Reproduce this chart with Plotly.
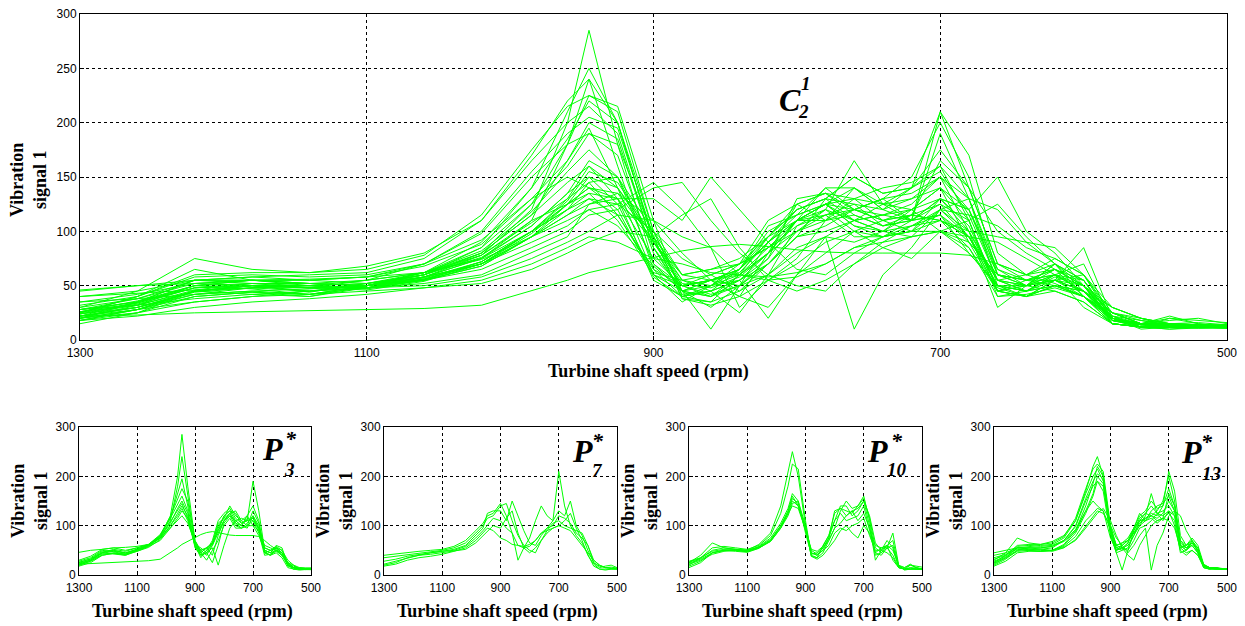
import plotly.graph_objects as go

# ---------------- data ----------------
speed_rpm = [1300, 1260, 1220, 1180, 1140, 1100, 1060, 1020, 985, 960, 945, 925, 900,
             880, 860, 840, 820, 800, 780, 760, 740, 720, 700, 680, 660, 640, 620,
             600, 580, 560, 540, 520, 500]

x_ticks = [1300, 1100, 900, 700, 500]
y_ticks_main = [0, 50, 100, 150, 200, 250, 300]
y_ticks_small = [0, 100, 200, 300]

p3_curves = [
    [22, 30, 45, 42, 40, 50, 60, 78, 120, 200, 285, 180, 70, 45, 55, 65, 90, 120, 130, 125, 105, 110, 190, 130, 50, 45, 50, 40, 20, 15, 14, 12, 12],
    [20, 28, 42, 45, 42, 48, 58, 75, 110, 180, 240, 160, 65, 40, 50, 60, 85, 110, 125, 130, 110, 120, 140, 110, 45, 50, 55, 45, 22, 18, 13, 12, 11],
    [25, 33, 48, 50, 44, 52, 62, 80, 115, 165, 195, 140, 60, 45, 55, 65, 100, 115, 140, 120, 110, 100, 130, 105, 48, 40, 55, 50, 25, 15, 12, 12, 13],
    [28, 35, 50, 47, 42, 50, 62, 82, 118, 155, 175, 150, 70, 50, 40, 60, 95, 120, 130, 110, 100, 95, 120, 95, 50, 45, 60, 55, 20, 12, 15, 14, 14],
    [22, 30, 44, 48, 45, 52, 60, 76, 105, 135, 150, 125, 60, 35, 50, 70, 110, 125, 135, 115, 105, 110, 115, 90, 45, 40, 50, 45, 18, 15, 12, 11, 12],
    [20, 28, 40, 44, 40, 48, 56, 72, 100, 125, 140, 120, 58, 40, 45, 65, 105, 115, 125, 105, 100, 115, 110, 85, 40, 42, 48, 40, 22, 12, 10, 11, 11],
    [24, 30, 45, 50, 45, 50, 58, 70, 95, 115, 130, 115, 65, 50, 55, 40, 80, 110, 120, 100, 95, 105, 120, 100, 55, 50, 55, 45, 25, 15, 12, 12, 12],
    [26, 32, 46, 52, 48, 55, 62, 74, 95, 110, 120, 105, 68, 45, 30, 50, 70, 100, 115, 95, 95, 100, 100, 80, 50, 45, 58, 50, 30, 20, 12, 11, 11],
    [30, 38, 52, 55, 50, 55, 62, 78, 108, 130, 145, 115, 62, 55, 45, 25, 60, 105, 120, 110, 100, 120, 100, 90, 60, 55, 50, 45, 25, 15, 13, 12, 12],
    [22, 23, 25, 26, 27, 28, 29, 32, 45, 55, 62, 68, 76, 82, 86, 88, 86, 83, 81, 80, 80, 80, 80, 78, 70, 60, 52, 40, 25, 20, 15, 14, 14],
    [18, 25, 40, 44, 42, 50, 60, 80, 115, 145, 160, 130, 55, 40, 45, 55, 20, 60, 95, 110, 115, 110, 115, 95, 45, 40, 45, 35, 15, 12, 12, 12, 11],
    [46, 50, 52, 55, 56, 58, 62, 75, 100, 120, 135, 110, 60, 50, 55, 62, 90, 110, 125, 105, 95, 100, 110, 95, 55, 50, 55, 45, 20, 15, 12, 12, 12],
]

p7_curves = [
    [40, 43, 46, 48, 50, 52, 58, 70, 90, 105, 120, 125, 145, 120, 85, 60, 55, 58, 70, 85, 90, 95, 100, 95, 90, 75, 60, 45, 30, 20, 15, 14, 13],
    [20, 25, 35, 40, 45, 48, 52, 60, 80, 95, 125, 130, 130, 110, 150, 120, 90, 65, 60, 80, 95, 110, 210, 140, 100, 80, 65, 40, 18, 12, 12, 12, 12],
    [28, 32, 38, 42, 45, 48, 50, 58, 75, 90, 100, 115, 110, 95, 85, 30, 55, 75, 110, 140, 120, 110, 130, 120, 150, 100, 80, 50, 25, 15, 18, 20, 15],
    [18, 22, 30, 35, 38, 42, 48, 55, 70, 85, 95, 90, 75, 70, 62, 60, 58, 62, 70, 85, 95, 100, 120, 115, 105, 85, 75, 60, 30, 20, 15, 13, 12],
    [22, 28, 35, 40, 42, 45, 48, 52, 65, 80, 90, 100, 95, 115, 130, 85, 55, 45, 55, 70, 85, 95, 100, 110, 125, 95, 70, 40, 22, 12, 10, 12, 12],
    [35, 38, 42, 45, 47, 50, 55, 65, 85, 100, 115, 120, 140, 145, 110, 80, 60, 50, 45, 70, 90, 105, 110, 100, 95, 90, 85, 60, 25, 18, 15, 16, 14],
]

p10_curves = [
    [25, 40, 65, 55, 52, 50, 62, 85, 140, 210, 250, 200, 100, 45, 40, 55, 70, 95, 130, 150, 135, 140, 160, 110, 40, 45, 60, 30, 15, 12, 14, 12, 12],
    [20, 35, 55, 58, 55, 52, 60, 80, 125, 180, 225, 215, 110, 40, 35, 60, 80, 110, 140, 140, 120, 130, 150, 100, 30, 50, 70, 55, 15, 12, 20, 15, 12],
    [15, 25, 45, 50, 50, 48, 58, 75, 105, 135, 165, 150, 85, 42, 45, 55, 75, 130, 135, 130, 125, 140, 155, 115, 55, 45, 55, 85, 20, 15, 22, 15, 12],
    [28, 35, 48, 52, 52, 50, 56, 70, 100, 130, 160, 140, 90, 50, 42, 50, 75, 110, 125, 110, 115, 120, 140, 90, 60, 55, 55, 40, 15, 12, 12, 12, 12],
    [24, 32, 45, 50, 50, 48, 55, 68, 95, 125, 150, 140, 95, 38, 35, 45, 70, 95, 105, 120, 130, 110, 125, 95, 45, 55, 60, 50, 20, 10, 12, 14, 12],
    [22, 30, 42, 48, 50, 47, 55, 68, 95, 120, 145, 150, 100, 45, 40, 50, 60, 85, 95, 90, 100, 105, 115, 80, 50, 50, 45, 35, 15, 12, 12, 12, 11],
    [26, 34, 50, 55, 52, 50, 57, 72, 100, 128, 155, 145, 95, 38, 32, 40, 55, 70, 90, 100, 85, 75, 100, 85, 45, 40, 55, 60, 18, 12, 15, 14, 13],
    [18, 28, 45, 50, 48, 46, 54, 70, 98, 125, 140, 135, 92, 52, 48, 58, 80, 125, 135, 120, 130, 135, 150, 120, 65, 50, 60, 70, 18, 15, 20, 18, 16],
]

p13_curves = [
    [22, 35, 55, 58, 60, 62, 75, 110, 170, 220, 240, 200, 90, 55, 60, 70, 85, 100, 110, 120, 130, 150, 200, 150, 60, 50, 70, 55, 20, 15, 15, 12, 12],
    [25, 40, 60, 62, 62, 65, 78, 115, 175, 215, 225, 210, 100, 60, 65, 75, 95, 110, 115, 125, 120, 140, 175, 140, 70, 55, 65, 50, 18, 14, 15, 13, 12],
    [30, 45, 75, 65, 62, 68, 80, 110, 165, 200, 215, 190, 85, 50, 55, 60, 80, 100, 120, 165, 125, 110, 130, 120, 55, 60, 75, 60, 22, 15, 12, 12, 12],
    [20, 32, 50, 52, 52, 55, 70, 100, 155, 190, 205, 195, 95, 55, 50, 65, 90, 115, 125, 120, 115, 125, 150, 130, 65, 55, 60, 45, 15, 12, 12, 12, 12],
    [28, 38, 55, 55, 55, 58, 70, 98, 150, 180, 190, 170, 80, 45, 10, 50, 90, 110, 110, 115, 105, 115, 165, 140, 70, 60, 65, 50, 18, 14, 14, 12, 12],
    [35, 42, 52, 50, 48, 50, 58, 78, 110, 125, 135, 130, 90, 60, 55, 50, 70, 95, 100, 110, 125, 120, 130, 100, 50, 40, 50, 40, 15, 12, 12, 12, 12],
    [40, 45, 55, 52, 50, 48, 55, 72, 100, 120, 130, 125, 100, 75, 60, 45, 60, 80, 95, 10, 60, 85, 120, 130, 120, 90, 70, 45, 20, 15, 15, 12, 12],
    [45, 50, 55, 55, 52, 50, 56, 70, 95, 115, 125, 135, 110, 80, 55, 40, 30, 60, 80, 100, 110, 115, 110, 95, 55, 45, 50, 40, 18, 14, 13, 12, 12],
    [18, 28, 45, 48, 48, 50, 62, 90, 140, 185, 220, 200, 90, 50, 55, 65, 95, 120, 130, 150, 135, 140, 210, 170, 80, 60, 70, 50, 15, 12, 15, 12, 12],
    [24, 34, 48, 50, 48, 50, 60, 85, 125, 160, 190, 180, 95, 60, 65, 70, 95, 125, 110, 130, 140, 145, 160, 130, 60, 50, 65, 55, 20, 15, 15, 13, 13],
    [32, 40, 58, 60, 58, 60, 70, 92, 130, 150, 140, 130, 75, 50, 60, 70, 85, 105, 115, 120, 110, 115, 125, 110, 45, 50, 60, 45, 20, 14, 12, 12, 12],
    [26, 36, 50, 55, 55, 58, 68, 88, 130, 165, 200, 185, 85, 45, 50, 55, 80, 110, 125, 140, 125, 130, 140, 120, 60, 55, 65, 50, 18, 14, 14, 12, 12],
]

panel_labels = ["3", "7", "10", "13"]
main_label = ("C", "2", "1")
x_title = "Turbine shaft speed (rpm)"
y_title = "Vibration<br>signal 1"

# ---------------- layout helpers ----------------
W, H = 1245, 626
GREEN = "#00ff00"
SERIF = "Liberation Serif, Times New Roman, serif"
SANS = "Liberation Sans, Arial, sans-serif"


def fx(p):
    return p / W


def fy(p):
    return 1 - p / H


def x_axis(domain, anchor):
    return dict(domain=domain, anchor=anchor, range=[1300, 500], tickvals=x_ticks,
                showgrid=True, gridcolor="black", griddash="3px,3px", gridwidth=1,
                showline=True, linecolor="black", linewidth=1, mirror=True,
                ticks="inside", ticklen=4, tickcolor="black", zeroline=False,
                automargin=False, ticklabelstandoff=2,
                tickfont=dict(family=SANS, size=12, color="black"))


def y_axis(domain, anchor, ticks):
    return dict(domain=domain, anchor=anchor, range=[0, 300], tickvals=ticks,
                showgrid=True, gridcolor="black", griddash="3px,3px", gridwidth=1,
                showline=True, linecolor="black", linewidth=1, mirror=True,
                ticks="inside", ticklen=4, tickcolor="black", zeroline=False,
                automargin=False,
                tickfont=dict(family=SANS, size=12, color="black"))


fig = go.Figure()

# panels: (curves, axis suffix, pixel x-range)
small_panels = [
    (p3_curves, "2", (79, 311)),
    (p7_curves, "3", (384, 617)),
    (p10_curves, "4", (689, 922)),
    (p13_curves, "5", (994, 1227)),
]

# top chart: all curves
all_curves = p3_curves + p7_curves + p10_curves + p13_curves
for c in all_curves:
    fig.add_trace(go.Scatter(x=speed_rpm, y=c, mode="lines", xaxis="x", yaxis="y",
                             line=dict(color=GREEN, width=1), showlegend=False,
                             hoverinfo="skip"))

for curves, s, _ in small_panels:
    for c in curves:
        fig.add_trace(go.Scatter(x=speed_rpm, y=c, mode="lines", xaxis="x" + s, yaxis="y" + s,
                                 line=dict(color=GREEN, width=1), showlegend=False,
                                 hoverinfo="skip"))

layout = dict(template="none", width=W, height=H, autosize=False,
              paper_bgcolor="white", plot_bgcolor="white",
              margin=dict(l=0, r=0, t=0, b=0, autoexpand=False), showlegend=False)

TOP_X = (80, 1227)
TOP_Y = (14, 340)
SM_Y = (427, 575)
layout["xaxis"] = x_axis([fx(TOP_X[0]), fx(TOP_X[1])], "y")
layout["yaxis"] = y_axis([fy(TOP_Y[1]), fy(TOP_Y[0])], "x", y_ticks_main)
for _, s, (x0, x1) in small_panels:
    layout["xaxis" + s] = x_axis([fx(x0), fx(x1)], "y" + s)
    layout["yaxis" + s] = y_axis([fy(SM_Y[1]), fy(SM_Y[0])], "x" + s, y_ticks_small)

ann = []


def text(x, y, t, size, angle=0, italic=False):
    t = "<b>" + (("<i>" + t + "</i>") if italic else t) + "</b>"
    ann.append(dict(x=fx(x), y=fy(y), xref="paper", yref="paper", text=t, showarrow=False,
                    textangle=angle, xanchor="center", yanchor="middle",
                    font=dict(family=SERIF, size=size, color="black")))


# top titles
text((TOP_X[0] + TOP_X[1]) / 2 - 5, 371, x_title, 18)
text(29, 180, y_title, 18, angle=-90)
# main label C_2^1
text(790, 100, main_label[0], 32, italic=True)
text(806, 84, main_label[2], 19, italic=True)
text(803, 111, main_label[1], 19, italic=True)

# small panel titles & labels
label_pos = [
    ((272, 449), (291, 438), (289, 469)),
    ((582, 451), (598, 440), (597, 470)),
    ((877, 451), (897, 440), (897, 469)),
    ((1191, 452), (1207, 441), (1211, 473)),
]
for (curves, s, (x0, x1)), lab, (pp, sp, bp) in zip(small_panels, panel_labels, label_pos):
    text((x0 + x1) / 2 - 3, 611, x_title, 18)
    text(x0 - 50, 501, y_title, 18, angle=-90)
    text(pp[0], pp[1], "P", 32, italic=True)
    text(sp[0], sp[1], "*", 22, italic=True)
    text(bp[0], bp[1], lab, 19, italic=True)

layout["annotations"] = ann
fig.update_layout(**layout)
fig.write_html("out.html", config={"displayModeBar": False},
               post_script="document.body.style.margin='0';document.body.style.overflow='hidden';")
